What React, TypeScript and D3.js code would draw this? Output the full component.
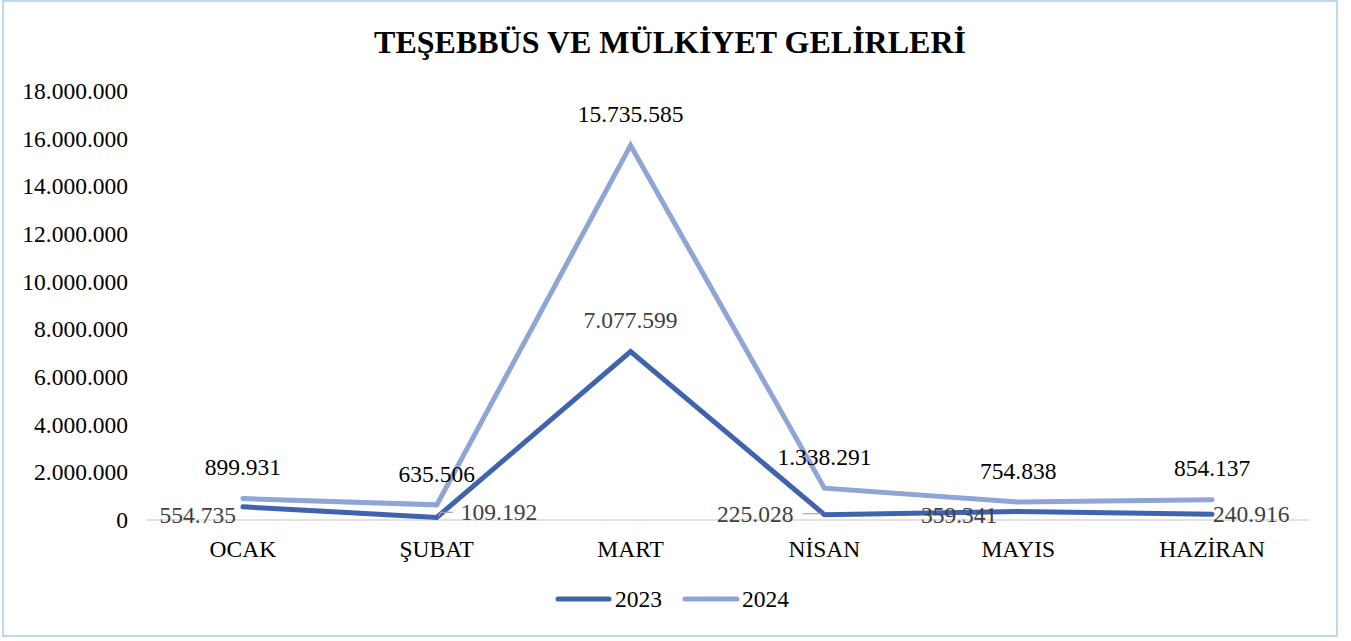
import React from "react";
import * as d3 from "d3";

const categories = ["OCAK", "ŞUBAT", "MART", "NİSAN", "MAYIS", "HAZİRAN"];
const values2023 = [554735, 109192, 7077599, 225028, 359341, 240916];
const values2024 = [899931, 635506, 15735585, 1338291, 754838, 854137];
const yTicks = [0, 2000000, 4000000, 6000000, 8000000, 10000000, 12000000, 14000000, 16000000, 18000000];
const seriesNames = ["2023", "2024"];
const placement2023 = ["left", "rightLeader", "above", "leftLeader", "belowLeft", "right"];

const W = 1351;
const H = 641;
const FONT = "'Liberation Serif', 'Times New Roman', serif";
const C2023 = "#3F63AD";
const C2024 = "#8FA5D6";

const fmt = (v: number) => {
  const s = Math.round(v).toString();
  return s.replace(/\B(?=(\d{3})+(?!\d))/g, ".");
};

export default function App() {
  const x = d3.scaleBand<string>().domain(categories).range([146, 1309]);
  const y = d3.scaleLinear().domain([0, 18000000]).range([520, 91.5]);
  const cx = (c: string) => (x(c) as number) + x.bandwidth() / 2;
  const line = d3
    .line<number>()
    .x((_, i) => cx(categories[i]))
    .y((d) => y(d));

  const fs = 23.5;
  const mid = fs * 0.33;

  const label2023 = (v: number, i: number) => {
    const px = cx(categories[i]);
    const py = y(v);
    const p = placement2023[i];
    let tx = px, ty = py, anchor = "middle";
    let leader: string | null = null;
    if (p === "left") { tx = px - 7; ty = py + 8; anchor = "end"; }
    else if (p === "rightLeader") {
      tx = px + 24; ty = py - 5; anchor = "start";
      leader = `M${px + 2},${py - 1}L${px + 4},${py - 5}L${px + 16},${py - 5}`;
    }
    else if (p === "above") { ty = py - 31; }
    else if (p === "leftLeader") {
      tx = px - 31; ty = py; anchor = "end";
      leader = `M${px - 22},${py - 1}L${px - 3},${py - 1}`;
    }
    else if (p === "belowLeft") { tx = px - 21; ty = py + 4; anchor = "end"; }
    else if (p === "right") { tx = px + 1; ty = py; anchor = "start"; }
    return (
      <g key={"l23" + i}>
        {leader && <path d={leader} fill="none" stroke="#A6A6A6" strokeWidth={1.2} />}
        <text x={tx} y={ty + mid} textAnchor={anchor} fill="#404040" fontSize={fs}>
          {fmt(v)}
        </text>
      </g>
    );
  };

  return (
    <svg
      width={W}
      height={H}
      style={{ position: "absolute", left: 0, top: 0, fontFamily: FONT }}
    >
      <rect x={0} y={0} width={W} height={H} fill="#fff" />
      <rect x={3} y={1} width={1334} height={635} fill="#fff" stroke="#BDD7EE" strokeWidth={2} />
      <text x={670} y={53} textAnchor="middle" fontWeight="bold" fontSize={32} fill="#000">
        TEŞEBBÜS VE MÜLKİYET GELİRLERİ
      </text>
      {yTicks.map((t) => (
        <text key={t} x={128} y={y(t) + mid} textAnchor="end" fontSize={fs} fill="#000">
          {fmt(t)}
        </text>
      ))}
      <line x1={146} x2={1309} y1={y(0)} y2={y(0)} stroke="#D9D9D9" strokeWidth={1.5} />
      {categories.map((c) => (
        <text key={c} x={cx(c)} y={557} textAnchor="middle" fontSize={fs} fill="#000">
          {c}
        </text>
      ))}
      <path d={line(values2023) as string} fill="none" stroke={C2023} strokeWidth={5} strokeLinecap="round" strokeLinejoin="miter" />
      <path d={line(values2024) as string} fill="none" stroke={C2024} strokeWidth={5} strokeLinecap="round" strokeLinejoin="miter" />
      {values2024.map((v, i) => (
        <text key={"l24" + i} x={cx(categories[i])} y={y(v) - 31 + mid} textAnchor="middle" fontSize={fs} fill="#000">
          {fmt(v)}
        </text>
      ))}
      {values2023.map(label2023)}
      <g>
        <line x1={558} x2={609} y1={599} y2={599} stroke={C2023} strokeWidth={5} strokeLinecap="round" />
        <text x={615} y={599 + mid} fontSize={fs} fill="#000">{seriesNames[0]}</text>
        <line x1={685} x2={737} y1={599} y2={599} stroke={C2024} strokeWidth={5} strokeLinecap="round" />
        <text x={742} y={599 + mid} fontSize={fs} fill="#000">{seriesNames[1]}</text>
      </g>
    </svg>
  );
}
